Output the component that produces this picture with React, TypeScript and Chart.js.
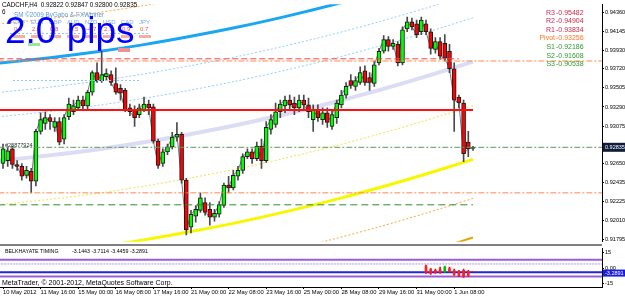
import React, { useEffect, useRef } from "react";
import { Chart, registerables } from "chart.js";
Chart.register(...registerables);

// ---------------- data ----------------
const titleText = "CADCHF,H4  0.92822 0.92847 0.92800 0.92835";
const subTitleDigit = "6";
const smText = "SM \u00a92009 ByGabo & FXWinner";
const spreadText = "2.0 pips";
const ticketText = "#28877924";
const copyrightText = "MetaTrader, \u00a9 2001-2012, MetaQuotes Software Corp.";

const barOpen = [
  0.92652, 0.92685, 0.92817, 0.92641, 0.92619, 0.92519, 0.92564, 0.92453, 0.93015, 0.93104,
  0.9317, 0.93059, 0.93126, 0.92927, 0.93181, 0.93236, 0.9328, 0.93368, 0.93302, 0.93456,
  0.93677, 0.93588, 0.93632, 0.93655, 0.93555, 0.935, 0.93478, 0.9328, 0.93258, 0.93203,
  0.93258, 0.93324, 0.93291, 0.92905, 0.92652, 0.92784, 0.92839, 0.92949, 0.92982, 0.92464,
  0.91935, 0.92057, 0.92123, 0.92211, 0.92134, 0.92046, 0.92079, 0.92178, 0.92409, 0.92376,
  0.92508, 0.92575, 0.92729, 0.92784, 0.92707, 0.9285, 0.92685, 0.93037, 0.93092, 0.93236,
  0.93302, 0.93368, 0.93335, 0.9328, 0.93368, 0.93313, 0.93148, 0.93258, 0.93148, 0.93225,
  0.9307, 0.9317, 0.93313, 0.93423, 0.93588, 0.93522, 0.93566, 0.93699, 0.93621, 0.93555,
  0.93787, 0.93919, 0.94051, 0.93974, 0.93996, 0.93787, 0.94172, 0.9425, 0.94228, 0.94139,
  0.94228, 0.94139, 0.93941, 0.94029, 0.94007, 0.93919, 0.93721, 0.93401, 0.93335, 0.92894,
  0.92822,
];
const barHigh = [
  0.92872, 0.92839, 0.9285, 0.92685, 0.92652, 0.92619, 0.92597, 0.93037, 0.93225, 0.93236,
  0.93203, 0.9317, 0.9317, 0.93203, 0.9339, 0.93368, 0.93412, 0.93412, 0.93478, 0.93699,
  0.93787, 0.93919, 0.93721, 0.93699, 0.93732, 0.93544, 0.935, 0.93324, 0.93302, 0.93324,
  0.93401, 0.93368, 0.93324, 0.92927, 0.92817, 0.92872, 0.93004, 0.93115, 0.93004, 0.92486,
  0.92123, 0.92178, 0.92321, 0.92266, 0.92211, 0.92134, 0.92222, 0.92431, 0.92508, 0.92575,
  0.92619, 0.92762, 0.92817, 0.92817, 0.92894, 0.92927, 0.93126, 0.93203, 0.93335, 0.93368,
  0.93412, 0.93423, 0.93401, 0.93423, 0.93423, 0.9339, 0.93313, 0.93313, 0.9328, 0.9328,
  0.93258, 0.93368, 0.93478, 0.93566, 0.93655, 0.93632, 0.93743, 0.93754, 0.93677, 0.93809,
  0.93952, 0.94095, 0.94084, 0.94051, 0.94029, 0.94194, 0.94305, 0.94294, 0.94272, 0.94305,
  0.94272, 0.94172, 0.94073, 0.94073, 0.94106, 0.93996, 0.93787, 0.93423, 0.93368, 0.93015,
  0.92847,
];
const barLow = [
  0.92597, 0.92619, 0.92597, 0.92575, 0.92464, 0.92486, 0.92321, 0.92398, 0.92982, 0.93037,
  0.93037, 0.93015, 0.92861, 0.92872, 0.93148, 0.93203, 0.93258, 0.93258, 0.93258, 0.93423,
  0.93566, 0.93566, 0.93588, 0.93533, 0.93434, 0.93368, 0.93236, 0.93192, 0.9307, 0.9317,
  0.93236, 0.93203, 0.92883, 0.92597, 0.92619, 0.92751, 0.92817, 0.92905, 0.92431, 0.91847,
  0.91869, 0.9199, 0.92101, 0.92068, 0.91957, 0.92002, 0.92046, 0.92156, 0.92321, 0.92354,
  0.92464, 0.92541, 0.92707, 0.92652, 0.92685, 0.92597, 0.92663, 0.92982, 0.93059, 0.9317,
  0.93225, 0.93258, 0.93203, 0.93236, 0.93258, 0.9317, 0.93015, 0.93126, 0.93092, 0.93059,
  0.93037, 0.93104, 0.9328, 0.9339, 0.935, 0.93478, 0.93544, 0.93533, 0.93478, 0.93522,
  0.93765, 0.93897, 0.93919, 0.93941, 0.93754, 0.93765, 0.94139, 0.94161, 0.94073, 0.94106,
  0.94106, 0.93886, 0.93897, 0.93831, 0.93809, 0.93677, 0.93015, 0.9328, 0.92674, 0.92729,
  0.928,
];
const barClose = [
  0.92817, 0.92795, 0.92641, 0.92619, 0.92508, 0.92575, 0.92453, 0.93015, 0.93148, 0.9317,
  0.93126, 0.93126, 0.92894, 0.9317, 0.93324, 0.93302, 0.93368, 0.93302, 0.93456, 0.93677,
  0.93588, 0.93655, 0.93666, 0.93566, 0.93456, 0.93445, 0.93258, 0.93236, 0.9317, 0.9328,
  0.93324, 0.9328, 0.92905, 0.9263, 0.92784, 0.92839, 0.92949, 0.92982, 0.92464, 0.91902,
  0.92079, 0.92134, 0.92266, 0.92101, 0.92046, 0.9209, 0.92189, 0.92409, 0.92376, 0.92519,
  0.92575, 0.92729, 0.92784, 0.92707, 0.9285, 0.92685, 0.93059, 0.93148, 0.93236, 0.93324,
  0.93368, 0.93313, 0.9328, 0.93368, 0.93313, 0.93236, 0.93258, 0.9317, 0.93225, 0.93115,
  0.93203, 0.93335, 0.93423, 0.93522, 0.93533, 0.93588, 0.93677, 0.93566, 0.93566, 0.93765,
  0.93919, 0.94051, 0.93974, 0.94007, 0.93787, 0.94161, 0.9425, 0.94194, 0.94106, 0.94272,
  0.94139, 0.93952, 0.94029, 0.93864, 0.93842, 0.93721, 0.93368, 0.93335, 0.92762, 0.92817,
  0.92835,
];

const timeLabelBars = [0, 8, 16, 24, 32, 40, 48, 56, 64, 72, 80, 88, 96];
const timeLabels = [
  "10 May 2012", "11 May 16:00", "15 May 00:00", "16 May 08:00", "17 May 16:00",
  "21 May 00:00", "22 May 08:00", "23 May 16:00", "25 May 00:00", "28 May 08:00",
  "29 May 16:00", "31 May 00:00", "1 Jun 08:00",
];
const priceTicks = [
  0.9436, 0.94145, 0.9393, 0.9372, 0.93505, 0.9329, 0.93075, 0.9286, 0.9265, 0.92435,
  0.92225, 0.9201, 0.91795,
];
const bidPrice = 0.92835;

const pivotNames = ["R3", "R2", "R1", "Pivot", "S1", "S2", "S3"];
const pivotValues = [0.95482, 0.94904, 0.93834, 0.93256, 0.92186, 0.91608, 0.90538];
const extraLevels = [0.93809, 0.92321];

// regression channel (centre line read at these bars) and band offsets
const regBars = [-1, 10, 20, 30, 40, 50, 60, 70, 80, 90, 100];
const regCenter = [
  0.92683, 0.92744, 0.92811, 0.92892, 0.92986, 0.9309, 0.93208, 0.93338, 0.9348, 0.93635, 0.93801,
];
const channelOffsets = [0.01543, 0.01102, 0.00771, 0.00496, 0, -0.00496, -0.01102, -0.01543, -0.01984];

// Belkhayate timing sub-window
const btBars = [90, 91, 92, 93, 94, 95, 96, 97, 98, 99, 100];
const btOpen = [2, -1, -2, -1, -3, 0, -2, -3, -2, -3, -3.1443];
const btHigh = [3, 0, -1, 1, 2, 1, -1, -2, -1, -2, -3.1];
const btLow = [-5, -6, -5, -5, -4, -4, -7, -8, -9, -8, -3.7114];
const btClose = [-4, -5, -4, -4, 1, -3, -6, -7, -8, -7, -3.2891];
const btLevels = [8, 4, -4, -8];
const btTicks = [15, 0, -15];
const btName = "BELKHAYATE TIMING";
const btReadout = "-3.1443 -3.7114 -3.4459 -3.2891";
const btLast = -3.2891;

// currency strength panel (mostly hidden behind the spread text)
const currNames = ["CHF", "EUR", "GBP", "AUD", "NZD", "USD", "CAD", "JPY"];
const currValues = ["0.6", "2.0", "0.8", "-2.5", "-4.7", "2.3", "0.9", "0.7"];

// ---------------- styles ----------------
const FONT = "'Liberation Sans', Arial, sans-serif";
const X_MIN = -0.64;
const X_MAX = 127.45;
const channelStyles = [
  { color: "#ffa640", width: 1, dash: [2, 2] },
  { color: "#1aa6f2", width: 3, dash: [] },
  { color: "#8fd0fa", width: 1, dash: [2, 2] },
  { color: "#8fd0fa", width: 1, dash: [2, 2] },
  { color: "#dcdcf4", width: 4, dash: [] },
  { color: "#f2e24a", width: 1, dash: [2, 2] },
  { color: "#f7f700", width: 3, dash: [] },
  { color: "#ffa640", width: 1, dash: [2, 2] },
  { color: "#eaa400", width: 2, dash: [] },
];
const hLines = [
  { value: pivotValues[2], to: 97, color: "#ff4545", width: 1, dash: [6, 3] },
  { value: extraLevels[0], to: 130, color: "#ff8a55", width: 1, dash: [6, 2, 2, 2] },
  { value: pivotValues[3], to: 100, color: "#ff1010", width: 2, dash: [] },
  { value: bidPrice, to: 130, color: "#5f9a5f", width: 1, dash: [6, 2, 2, 2] },
  { value: extraLevels[1], to: 130, color: "#ff8a55", width: 1, dash: [6, 2, 2, 2] },
  { value: pivotValues[4], to: 100, color: "#2f8f2f", width: 1, dash: [7, 4] },
];
const btLevelStyles = [
  { color: "#9a5fd6", width: 2, dash: [] },
  { color: "#b28fe0", width: 1, dash: [2, 1] },
  { color: "#2424d8", width: 2, dash: [] },
  { color: "#9a5fd6", width: 2, dash: [] },
];
const pivotColors = ["#d2284a", "#d2284a", "#d2284a", "#ff7a22", "#2e9a2e", "#2e9a2e", "#2e9a2e"];

const whiteBg = {
  id: "whiteBg",
  beforeDraw(chart: any) {
    const ctx = chart.ctx;
    ctx.save();
    ctx.fillStyle = "#ffffff";
    ctx.fillRect(0, 0, chart.width, chart.height);
    ctx.restore();
  },
};

const mainOverlay = {
  id: "mainOverlay",
  afterDraw(chart: any) {
    const ctx = chart.ctx as CanvasRenderingContext2D;
    const ys = chart.scales.y;
    ctx.save();
    // currency panel
    ctx.textBaseline = "middle";
    ctx.textAlign = "left";
    ctx.font = `6px ${FONT}`;
    currNames.forEach((n, i) => {
      ctx.fillStyle = "#7fa9e3";
      ctx.fillText(n, 13 + i * 18, 22);
      ctx.fillStyle = "#ff5050";
      ctx.fillText(currValues[i], 14 + i * 18, 29);
      ctx.fillStyle = "#f4b0a8";
      ctx.fillRect(13 + i * 18, 35, 12, 3);
    });
    ctx.fillStyle = "#9ae69a";
    ctx.fillRect(28, 43, 12, 3);
    ctx.fillStyle = "#f09090";
    ctx.fillRect(118, 48, 12, 4);
    ctx.strokeStyle = "#8fc8f5";
    ctx.setLineDash([2, 2]);
    ctx.lineWidth = 1;
    ctx.beginPath();
    ctx.moveTo(10, 33.5);
    ctx.lineTo(150, 33.5);
    ctx.moveTo(13, 80.5);
    ctx.lineTo(140, 80.5);
    ctx.stroke();
    ctx.setLineDash([]);

    // title lines
    ctx.fillStyle = "#000";
    ctx.font = `6.3px ${FONT}`;
    ctx.fillText(titleText, 2, 5.5);
    ctx.fillText(subTitleDigit, 2, 12);
    ctx.fillStyle = "#5d9be0";
    ctx.fillText(smText, 14, 15.5);

    // spread text
    ctx.fillStyle = "#0000ff";
    ctx.font = `37px ${FONT}`;
    ctx.textBaseline = "alphabetic";
    ctx.fillText(spreadText, 5, 43);

    // pivot labels
    ctx.textBaseline = "middle";
    ctx.font = `7px ${FONT}`;
    pivotNames.forEach((n, i) => {
      const yy = 12.7 + i * 8.6;
      ctx.fillStyle = pivotColors[i];
      ctx.textAlign = "right";
      ctx.fillText(n, 555, yy);
      ctx.textAlign = "left";
      ctx.fillText("-" + pivotValues[i].toFixed(5), 556, yy);
    });

    // order ticket label
    ctx.textAlign = "left";
    ctx.fillStyle = "#333";
    ctx.font = `5.5px ${FONT}`;
    ctx.fillText(ticketText, 5, 145.5);

    // current price box
    const py = ys.getPixelForValue(bidPrice);
    ctx.fillStyle = "#101c3c";
    ctx.fillRect(603, py - 4.5, 22, 9);
    ctx.fillStyle = "#fff";
    ctx.font = `5.5px ${FONT}`;
    ctx.fillText(bidPrice.toFixed(5), 605, py);
    ctx.restore();
  },
};

const subOverlay = {
  id: "subOverlay",
  afterDraw(chart: any) {
    const ctx = chart.ctx as CanvasRenderingContext2D;
    const ys = chart.scales.y;
    ctx.save();
    ctx.fillStyle = "#808080";
    ctx.fillRect(0, 0, 602, 2);
    ctx.textBaseline = "middle";
    ctx.textAlign = "left";
    ctx.fillStyle = "#000";
    ctx.font = `5.3px ${FONT}`;
    ctx.fillText(btName, 5, 7.5);
    ctx.fillText(btReadout, 72, 7.5);
    ctx.font = `7px ${FONT}`;
    ctx.fillText(copyrightText, 2, 39.5);
    const by = ys.getPixelForValue(btLast) + 1.5;
    ctx.fillStyle = "#1a1ae6";
    ctx.fillRect(603, by - 3.5, 22, 7);
    ctx.fillStyle = "#fff";
    ctx.font = `5.5px ${FONT}`;
    ctx.fillText(btLast.toFixed(4), 605, by);
    ctx.restore();
  },
};

const tickFont = { family: FONT, size: 5.6 };
const timeFont = { family: FONT, size: 5.8 };
const axisGrid = { drawOnChartArea: false, drawTicks: true, tickLength: 2, color: "#000", offset: false };

export default function App() {
  const mainRef = useRef<HTMLCanvasElement>(null);
  const subRef = useRef<HTMLCanvasElement>(null);
  useEffect(() => {
    const mc = mainRef.current;
    const sc = subRef.current;
    if (!mc || !sc) return;
    const idx = barOpen.map((_, i) => i);
    const isUp = (i: number) => barClose[i] >= barOpen[i];

    const mainSets: any[] = [];
    mainSets.push({
      type: "bar",
      label: "wick",
      data: idx.map((i) => ({ x: i, y: [barLow[i], barHigh[i]] })),
      backgroundColor: "#4a4a4a",
      barThickness: 1,
      grouped: false,
      order: 2,
    });
    mainSets.push({
      type: "bar",
      label: "body",
      data: idx.map((i) => ({ x: i, y: [barOpen[i], barClose[i]] })),
      backgroundColor: (c: any) => (isUp(c.dataIndex) ? "#00ff00" : "#ff0000"),
      borderColor: "#1a1a1a",
      borderWidth: 1,
      borderSkipped: false,
      barThickness: 4,
      grouped: false,
      order: 1,
    });
    mainSets.push({
      type: "line",
      label: "close",
      data: idx.map((i) => ({ x: i, y: barClose[i] })),
      borderColor: "#7a7a7a",
      borderWidth: 1,
      pointRadius: 0,
      order: 3,
    });
    channelOffsets.forEach((off, k) => {
      const st = channelStyles[k];
      mainSets.push({
        type: "line",
        label: "ch" + k,
        data: regBars.map((b, j) => ({ x: b, y: regCenter[j] + off })),
        borderColor: st.color,
        borderWidth: st.width,
        borderDash: st.dash,
        pointRadius: 0,
        tension: 0.3,
        order: 6,
      });
    });
    hLines.forEach((h, k) => {
      mainSets.push({
        type: "line",
        label: "h" + k,
        data: [
          { x: -1, y: h.value },
          { x: h.to, y: h.value },
        ],
        borderColor: h.color,
        borderWidth: h.width,
        borderDash: h.dash,
        pointRadius: 0,
        order: 0,
      });
    });

    const main = new Chart(mc, {
      type: "bar",
      data: { datasets: mainSets },
      plugins: [whiteBg, mainOverlay],
      options: {
        animation: false,
        responsive: false,
        devicePixelRatio: 1,
        events: [],
        layout: { autoPadding: false, padding: { top: 2, left: 0, right: 0, bottom: 1 } },
        plugins: { legend: { display: false }, tooltip: { enabled: false } },
        scales: {
          x: { type: "linear", display: false, offset: false, min: X_MIN, max: X_MAX, bounds: "data", grid: { offset: false } },
          y: {
            type: "linear",
            position: "right",
            min: 0.917703,
            max: 0.944482,
            bounds: "data",
            afterBuildTicks: (s: any) => {
              s.ticks = priceTicks.map((v) => ({ value: v }));
            },
            afterFit: (s: any) => {
              s.width = 23;
            },
            ticks: {
              padding: 1,
              font: tickFont,
              color: "#000",
              autoSkip: false,
              callback: (v: any) => Number(v).toFixed(5),
            },
            grid: axisGrid,
            border: { display: true, color: "#000" },
          },
        },
      } as any,
    });

    const btUp = (j: number) => btClose[j] >= btOpen[j];
    const subSets: any[] = [];
    btLevels.forEach((v, k) => {
      const st = btLevelStyles[k];
      subSets.push({
        type: "line",
        label: "bt" + k,
        data: [
          { x: -1, y: v },
          { x: 130, y: v },
        ],
        borderColor: st.color,
        borderWidth: st.width,
        borderDash: st.dash,
        pointRadius: 0,
        order: 5,
      });
    });
    subSets.push({
      type: "bar",
      label: "btwick",
      data: btBars.map((b, j) => ({ x: b, y: [btLow[j], btHigh[j]] })),
      backgroundColor: (c: any) => (btUp(c.dataIndex) ? "#00b000" : "#ff0000"),
      barThickness: 1,
      grouped: false,
      order: 2,
    });
    subSets.push({
      type: "bar",
      label: "btbody",
      data: btBars.map((b, j) => ({ x: b, y: [btOpen[j], btClose[j]] })),
      backgroundColor: (c: any) => (btUp(c.dataIndex) ? "#00c000" : "#ff2020"),
      barThickness: 2,
      grouped: false,
      order: 1,
    });

    const sub = new Chart(sc, {
      type: "bar",
      data: { datasets: subSets },
      plugins: [whiteBg, subOverlay],
      options: {
        animation: false,
        responsive: false,
        devicePixelRatio: 1,
        events: [],
        layout: { autoPadding: false, padding: { top: 1, left: 0, right: 0, bottom: 0 } },
        plugins: { legend: { display: false }, tooltip: { enabled: false } },
        scales: {
          x: {
            type: "linear",
            position: "bottom",
            offset: false,
            min: X_MIN,
            max: X_MAX,
            bounds: "data",
            afterBuildTicks: (s: any) => {
              s.ticks = timeLabelBars.map((v) => ({ value: v }));
            },
            afterFit: (s: any) => {
              s.height = 11;
            },
            ticks: {
              autoSkip: false,
              maxRotation: 0,
              minRotation: 0,
              align: "start",
              padding: 0,
              font: timeFont,
              color: "#000",
              callback: (_v: any, i: number) => timeLabels[i] ?? "",
            },
            grid: axisGrid,
            border: { display: true, color: "#000" },
          },
          y: {
            type: "linear",
            position: "right",
            min: -18.1,
            max: 19,
            bounds: "data",
            afterBuildTicks: (s: any) => {
              s.ticks = btTicks.map((v) => ({ value: v }));
            },
            afterFit: (s: any) => {
              s.width = 23;
            },
            ticks: {
              padding: 1,
              font: tickFont,
              color: "#000",
              autoSkip: false,
              callback: (v: any) => (Number(v) === 0 ? "0.00" : String(v)),
            },
            grid: axisGrid,
            border: { display: true, color: "#000" },
          },
        },
      } as any,
    });
    return () => {
      main.destroy();
      sub.destroy();
    };
  }, []);
  return (
    <div style={{ position: "fixed", left: 0, top: 0, width: 625, height: 298, background: "#fff" }}>
      <canvas
        ref={mainRef}
        width={625}
        height={246}
        style={{ position: "absolute", left: 0, top: 0, width: 625, height: 246, display: "block" }}
      />
      <canvas
        ref={subRef}
        width={625}
        height={54}
        style={{ position: "absolute", left: 0, top: 244, width: 625, height: 54, display: "block" }}
      />
    </div>
  );
}
